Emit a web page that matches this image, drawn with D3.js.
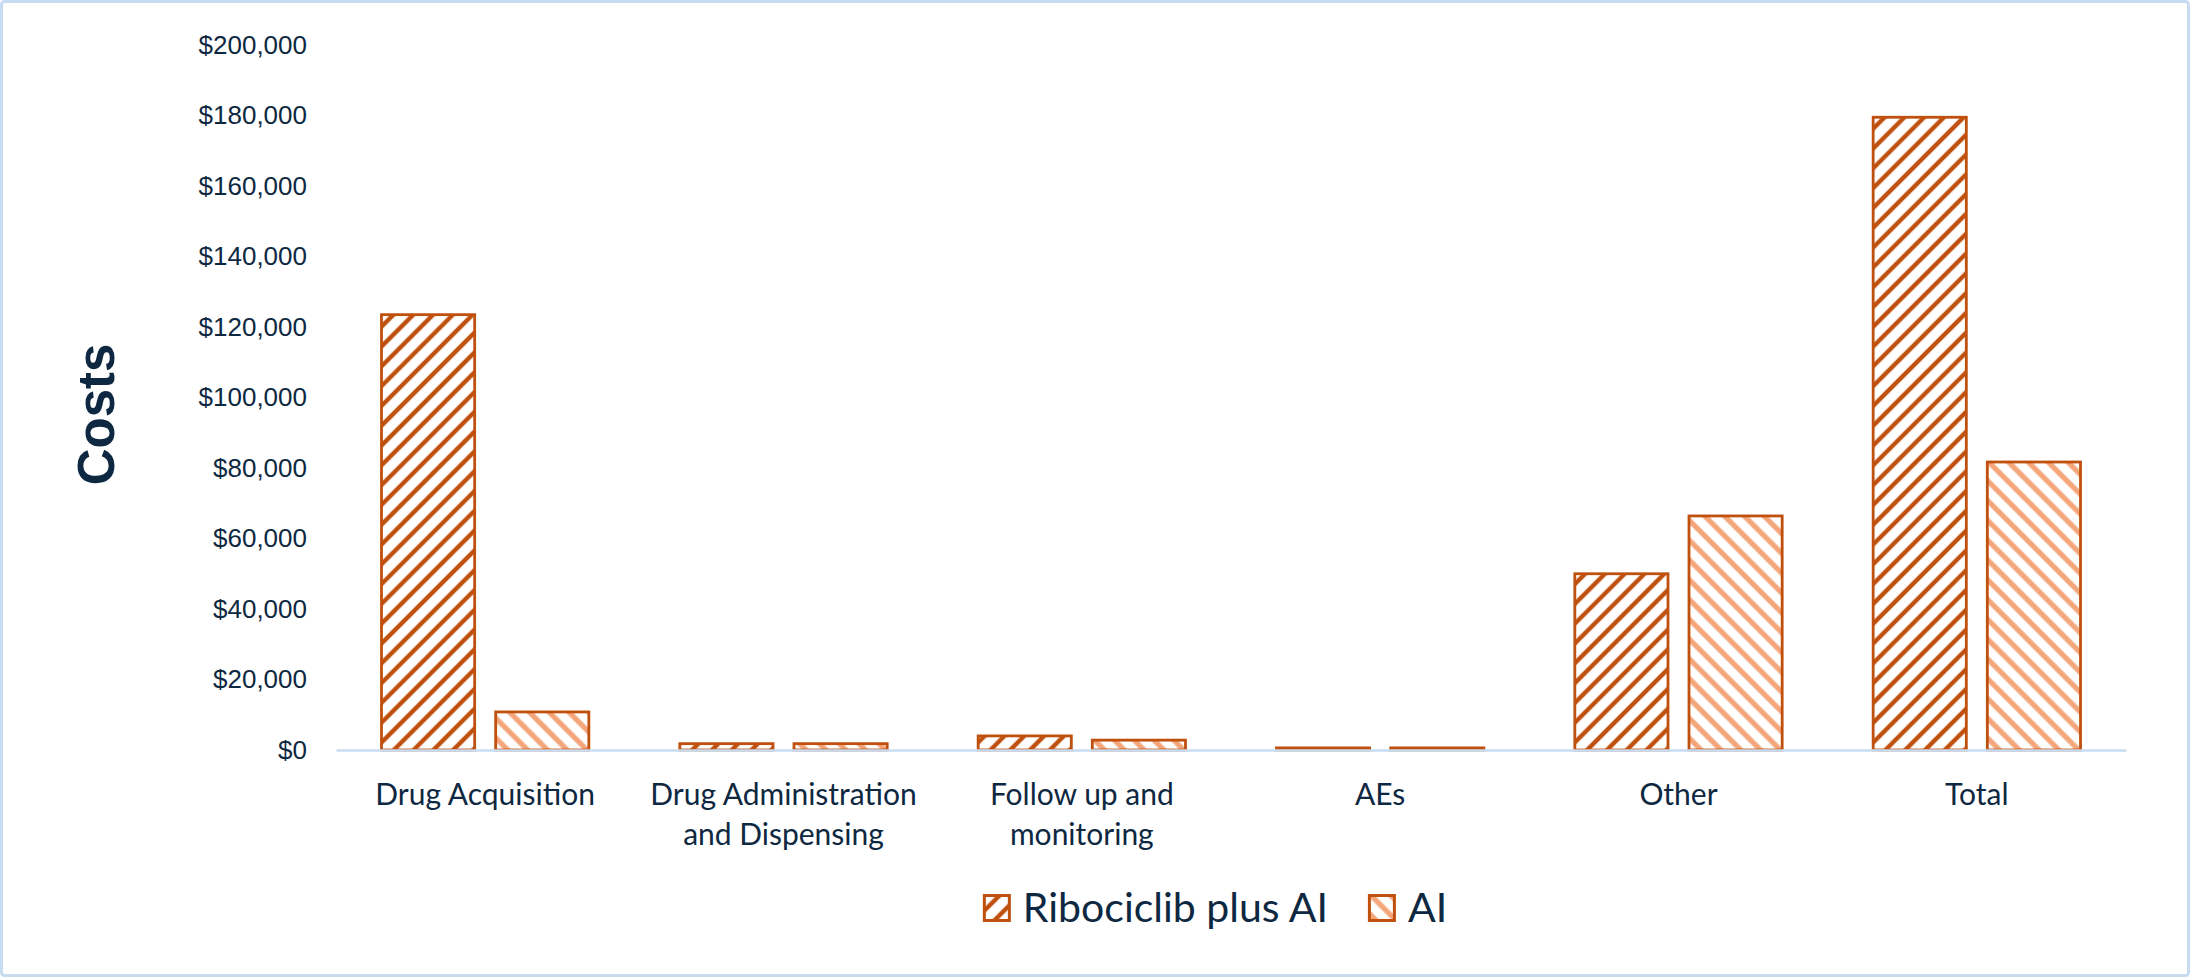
<!DOCTYPE html>
<html>
<head>
<meta charset="utf-8">
<script src="https://cdn.jsdelivr.net/npm/d3@7"></script>
<style>
  html, body { margin: 0; padding: 0; background: #fff; }
</style>
</head>
<body>
<div id="chart"></div>
<script>

// chart data

var categories = ["Drug Acquisition", "Drug Administration and Dispensing", "Follow up and monitoring", "AEs", "Other", "Total"]

var categoryLines = [["Drug Acquisition"], ["Drug Administration", "and Dispensing"], ["Follow up and", "monitoring"], ["AEs"], ["Other"], ["Total"]]

var seriesNames = ["Ribociclib plus AI", "AI"]

var ribociclibValues = [123500, 1800, 4000, 600, 50000, 179500]

var aiValues = [10800, 1800, 2800, 600, 66400, 81700]

var yTicks = [0, 20000, 40000, 60000, 80000, 100000, 120000, 140000, 160000, 180000, 200000]

var width = 2190

var height = 977

var margin = { top: 45, right: 64, bottom: 227, left: 336 }

var textColor = "#0e2841"

var darkOrange = "#c0500e"

var lightOrange = "#f4a57a"

var svg = d3.select("#chart")
	.append("svg")
	.attr("width", width)
	.attr("height", height)
	.attr("viewBox", `0 0 ${width} ${height}`)

// hatch patterns

var defs = svg.append("defs")

var hatch = [
	{ id: "hatchDark", angle: 45, color: darkOrange, w: 4.4 },
	{ id: "hatchLight", angle: -45, color: lightOrange, w: 5.2 }
]

hatch.forEach(h => {

	var p = defs.append("pattern")
		.attr("id", h.id)
		.attr("patternUnits", "userSpaceOnUse")
		.attr("width", 14)
		.attr("height", 14)
		.attr("patternTransform", `rotate(${h.angle})`)

	p.append("rect")
		.attr("width", 14)
		.attr("height", 14)
		.attr("fill", "#fff")

	p.append("line")
		.attr("x1", 7)
		.attr("x2", 7)
		.attr("y1", 0)
		.attr("y2", 14)
		.attr("stroke", h.color)
		.attr("stroke-width", h.w)
})

var fills = ["url(#hatchDark)", "url(#hatchLight)"]

// outer frame

svg.append("rect")
	.attr("x", 1.5)
	.attr("y", 1.5)
	.attr("width", width - 3)
	.attr("height", height - 3)
	.attr("rx", 3)
	.attr("fill", "#fff")
	.attr("stroke", "#c8dcf1")
	.attr("stroke-width", 3)

var x0 = d3.scaleBand()
	.domain(categories)
	.range([margin.left, width - margin.right])
	.paddingInner(0.305)
	.paddingOuter(0.1525)

var x1 = d3.scaleBand()
	.domain(seriesNames)
	.range([0, x0.bandwidth()])
	.paddingInner(0.184)

var y = d3.scaleLinear()
	.domain([0, 200000])
	.range([height - margin.bottom, margin.top])

var rows = categories.map((c, i) => ({
	category: c,
	values: [
		{ name: seriesNames[0], value: ribociclibValues[i], fill: fills[0] },
		{ name: seriesNames[1], value: aiValues[i], fill: fills[1] }
	]
}))

// y axis labels

var yAxis = svg.append("g")
	.attr("transform", `translate(${margin.left},0)`)
	.call(d3.axisLeft(y).tickValues(yTicks).tickSize(0).tickPadding(29).tickFormat(d3.format("$,")))

yAxis.select(".domain").remove()

yAxis.selectAll("text")
	.attr("font-family", "'Liberation Sans', Arial, sans-serif")
	.attr("font-size", 26)
	.attr("fill", textColor)

// bars

svg.append("g")
	.selectAll("g")
	.data(rows)
	.join("g")
	.attr("transform", d => `translate(${x0(d.category)},0)`)
	.selectAll("rect")
	.data(d => d.values)
	.join("rect")
	.attr("x", d => x1(d.name))
	.attr("y", d => y(d.value))
	.attr("width", x1.bandwidth())
	.attr("height", d => y(0) - y(d.value))
	.attr("fill", d => d.fill)
	.attr("stroke", darkOrange)
	.attr("stroke-width", 2.8)

// x axis with wrapped labels

var xAxis = svg.append("g")
	.attr("transform", `translate(0,${y(0)})`)
	.call(d3.axisBottom(x0).tickSize(0).tickSizeOuter(0))

xAxis.select(".domain")
	.attr("stroke", "#c8dcf1")
	.attr("stroke-width", 2.5)

xAxis.selectAll(".tick text")
	.attr("y", null)
	.attr("dy", null)
	.attr("font-family", "Lato, 'Noto Sans', sans-serif")
	.attr("font-size", 30)
	.attr("fill", textColor)
	.text(null)
	.each(function(d, i) {

		var t = d3.select(this)

		categoryLines[i].forEach((line, j) => {
			t.append("tspan")
				.attr("x", 0)
				.attr("y", 55 + j * 40)
				.text(line)
		})
	})

// y axis title

svg.append("text")
	.attr("transform", `translate(114,${(margin.top + y(0)) / 2 + 17}) rotate(-90)`)
	.attr("text-anchor", "middle")
	.attr("font-family", "'Liberation Sans', Arial, sans-serif")
	.attr("font-weight", "bold")
	.attr("font-size", 51)
	.attr("fill", textColor)
	.text("Costs")

// legend

var legend = svg.append("g")
	.attr("transform", "translate(0,922)")

var lx = 0

seriesNames.forEach((name, i) => {

	var item = legend.append("g")
		.attr("transform", `translate(${lx},0)`)

	item.append("rect")
		.attr("x", 1.5)
		.attr("y", -26.5)
		.attr("width", 25)
		.attr("height", 25)
		.attr("fill", fills[i])
		.attr("stroke", darkOrange)
		.attr("stroke-width", 3)

	var label = item.append("text")
		.attr("x", 40)
		.attr("y", 0)
		.attr("font-family", "Lato, 'Noto Sans', sans-serif")
		.attr("font-size", 41)
		.attr("fill", textColor)
		.text(name)

	lx += 40 + label.node().getComputedTextLength() + 40

})

var legendWidth = lx - 40

legend.attr("transform", `translate(${1215 - legendWidth / 2},922)`)

</script>
</body>
</html>
